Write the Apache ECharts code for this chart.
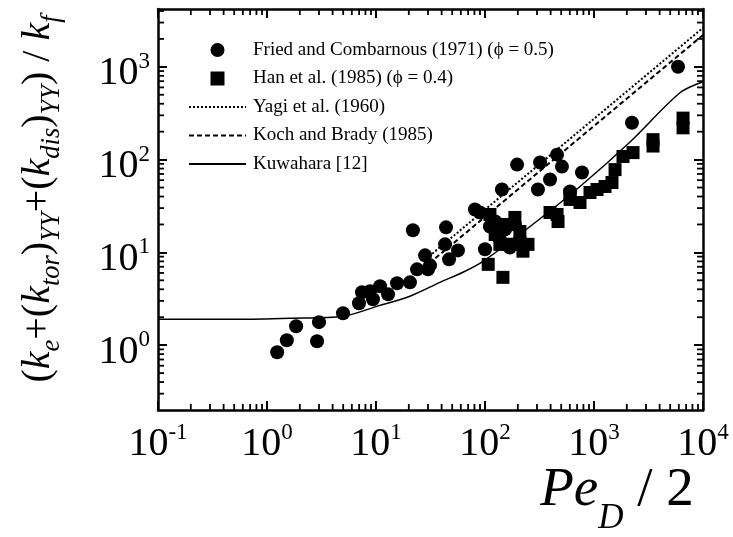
<!DOCTYPE html>
<html><head><meta charset="utf-8">
<script src="https://cdn.jsdelivr.net/npm/echarts@6/dist/echarts.min.js"></script>
<style>html,body{margin:0;padding:0;background:#fff}#c{width:733px;height:537px}</style>
</head><body><div id="c"></div>
<script>
// ---- data ----
const friedName = 'Fried and Combarnous (1971) (\u03d5 = 0.5)';
const hanName = 'Han et al. (1985) (\u03d5 = 0.4)';
const yagiName = 'Yagi et al. (1960)';
const kochName = 'Koch and Brady (1985)';
const kuwaharaName = 'Kuwahara [12]';

const friedX = [1.24,1.52,1.85,2.88,3.0,4.98,6.98,7.44,8.81,9.38,10.9,12.9,15.6,20.5,21.8,23.8,28.2,30.0,31.3,43.9,43.0,46.8,56.5,80.9,100,111,143,90,124,153,188,137,209,169,197,320,458,508,306,395,776,603,2230,5900];
const friedY = [0.84,1.13,1.60,1.10,1.77,2.21,2.83,3.72,3.81,3.13,4.31,3.53,4.64,4.75,17.3,6.56,9.29,6.56,7.25,18.6,12.2,8.41,10.5,29.0,10.8,19.0,47.6,26.9,21.5,17.7,20.0,13.8,13.8,11.3,88.3,92.9,113,84.1,47.6,61.0,72.5,45.3,250,1000];

const hanX = [107,146,124,153,177,209,248,223,137,188,163,395,468,603,744,919,1066,1262,1462,1560,1845,2280,3480,3480,6560,6560,458,603,111];
const hanY = [7.43,5.38,15.6,20.0,12.2,16.8,12.2,10.3,12.2,23.8,12.2,26.9,21.5,37.2,34.5,44.2,47.6,51.3,56.6,78.0,108,119,164,140,280,220,25.6,42.1,25.6];

const yagiX = [27, 10000];
const yagiY = [8.0, 2630];
const kochX = [27, 10000];
const kochY = [6.7, 2200];
const kuwaharaX = [0.1,0.5,1.63,4.98,10.2,20.5,38.6,62.8,95.9,259,744,2140,6150,10000];
const kuwaharaY = [1.9,1.9,1.95,2.05,2.62,3.37,4.75,6.1,8.0,19.0,51.3,155,525,690];

const xMajorTicks = [0.1,1,10,100,1000,10000];
const yMajorTicks = [1,10,100,1000];
const xMinorTicks = [0.2,0.3,0.4,0.5,0.6,0.7,0.8,0.9, 2,3,4,5,6,7,8,9, 20,30,40,50,60,70,80,90,
                     200,300,400,500,600,700,800,900, 2000,3000,4000,5000,6000,7000,8000,9000];
const yMinorTicks = [0.3,0.4,0.5,0.6,0.7,0.8,0.9, 2,3,4,5,6,7,8,9, 20,30,40,50,60,70,80,90,
                     200,300,400,500,600,700,800,900, 2000,3000,4000];
const xRange = [0.1, 10000];
const yRange = [0.2, 4200];

const zip = (a,b)=>a.map((v,i)=>[v,b[i]]);
const FONT = 'Liberation Serif';

const expRich = {
  b:{fontSize:40, fontFamily:FONT, color:'#000', lineHeight:47, verticalAlign:'middle'},
  s:{fontSize:23, fontFamily:FONT, color:'#000', lineHeight:23, verticalAlign:'top'}
};
function expFormatter(v){
  const e = Math.round(Math.log10(v));
  return '{b|10}{s|' + (e<0 ? '-'+(-e) : e) + '}';
}

function makeAxis(kind, pos, range, ticks, lbl){
  const ax = {
    type:'log', logBase:10, position:pos, min:range[0], max:range[1],
    splitLine:{show:false},
    axisLine:{show:true, onZero:false, lineStyle:{color:'#000', width:2.5}},
    axisTick:{show:true, inside:true, length:9, customValues:ticks, lineStyle:{color:'#000', width:2}},
    axisLabel:{show:false}
  };
  if(lbl){
    ax.axisLabel = {show:true, customValues:ticks, formatter:expFormatter, rich:expRich,
      margin: kind==='x'?11:8, padding: kind==='x'?0:[14,0,0,0]};
  }
  return ax;
}

function titleElements(){
  return [
    {type:'text', id:'ytitle', x:42, y:199, rotation:Math.PI/2,
     style:{
       text:'{p|(}{k|k}{sub|e}{p|+(}{k|k}{sub|tor}{p|)}{sub|YY}{p|+(}{k|k}{sub|dis}{p|)}{sub|YY}{p|) / }{k|k}{sub|f}',
       align:'center', verticalAlign:'middle',
       rich:{
         p:{fontSize:40, fontFamily:FONT, fill:'#000', lineHeight:44, verticalAlign:'top'},
         k:{fontSize:40, fontFamily:FONT, fontStyle:'italic', fill:'#000', lineHeight:44, verticalAlign:'top'},
         sub:{fontSize:26.5, fontFamily:FONT, fontStyle:'italic', fill:'#000', lineHeight:48, verticalAlign:'bottom'}
       }
     }},
    {type:'text', id:'xtitle', x:617, y:500,
     style:{
       text:'{i|Pe}{sub|D}{r| / 2}',
       align:'center', verticalAlign:'middle',
       rich:{
         i:{fontSize:55, fontFamily:FONT, fontStyle:'italic', fill:'#000', lineHeight:58, verticalAlign:'top'},
         r:{fontSize:55, fontFamily:FONT, fill:'#000', lineHeight:58, verticalAlign:'top'},
         sub:{fontSize:35, fontFamily:FONT, fontStyle:'italic', fill:'#000', lineHeight:73, verticalAlign:'bottom'}
       }
     }}
  ];
}

const chart = echarts.init(document.getElementById('c'), null, {renderer:'canvas'});
chart.setOption({
  animation:false,
  backgroundColor:'#fff',
  grid:{left:158, right:30, top:9, bottom:127, containLabel:false},
  xAxis:[
    makeAxis('x','bottom',xRange,xMajorTicks,true),
    makeAxis('x','top',xRange,xMajorTicks,false)
  ],
  yAxis:[
    makeAxis('y','left',yRange,yMajorTicks,true),
    makeAxis('y','right',yRange,yMajorTicks,false)
  ],
  legend:{
    orient:'vertical', left:183, top:35, itemWidth:57, itemHeight:14, itemGap:8.5,
    textStyle:{fontFamily:FONT, fontSize:19, color:'#000', lineHeight:20, padding:[0,0,0,2]},
    data:[
      {name:friedName, icon:'circle'},
      {name:hanName, icon:'path://M0 0H10V10H0Z'},
      {name:yagiName},
      {name:kochName},
      {name:kuwaharaName}
    ]
  },
  series:[
    {name:friedName, type:'scatter', xAxisIndex:0, yAxisIndex:0, data:zip(friedX,friedY),
     symbol:'circle', symbolSize:14, itemStyle:{color:'#000', opacity:1}},
    {name:hanName, type:'scatter', xAxisIndex:0, yAxisIndex:0, data:zip(hanX,hanY),
     symbol:'rect', symbolSize:13, itemStyle:{color:'#000', opacity:1}},
    {name:yagiName, type:'line', xAxisIndex:0, yAxisIndex:0, data:zip(yagiX,yagiY),
     symbol:'none', lineStyle:{color:'#000', width:2, type:[2,2]}, itemStyle:{color:'rgba(0,0,0,0)'}},
    {name:kochName, type:'line', xAxisIndex:0, yAxisIndex:0, data:zip(kochX,kochY),
     symbol:'none', lineStyle:{color:'#000', width:2, type:[5,3]}, itemStyle:{color:'rgba(0,0,0,0)'}},
    {name:kuwaharaName, type:'line', xAxisIndex:0, yAxisIndex:0, data:zip(kuwaharaX,kuwaharaY),
     symbol:'none', smooth:0.3, lineStyle:{color:'#000', width:1.5}, itemStyle:{color:'rgba(0,0,0,0)'}}
  ]
});

// minor ticks on all four sides, positioned through the axes' own scales
const MINOR = 6;
const g = titleElements();
const yb = chart.convertToPixel({yAxisIndex:0}, yRange[0]);
const yt = chart.convertToPixel({yAxisIndex:0}, yRange[1]);
const xl = chart.convertToPixel({xAxisIndex:0}, xRange[0]);
const xr = chart.convertToPixel({xAxisIndex:0}, xRange[1]);
xMinorTicks.forEach((v,i)=>{
  const px = chart.convertToPixel({xAxisIndex:0}, v);
  g.push({type:'line', id:'xb'+i, z:10, shape:{x1:px,y1:yb,x2:px,y2:yb-MINOR}, style:{stroke:'#000', lineWidth:1.8}});
  g.push({type:'line', id:'xt'+i, z:10, shape:{x1:px,y1:yt,x2:px,y2:yt+MINOR}, style:{stroke:'#000', lineWidth:1.8}});
});
yMinorTicks.forEach((v,i)=>{
  const py = chart.convertToPixel({yAxisIndex:0}, v);
  g.push({type:'line', id:'yl'+i, z:10, shape:{x1:xl,y1:py,x2:xl+MINOR,y2:py}, style:{stroke:'#000', lineWidth:1.8}});
  g.push({type:'line', id:'yr'+i, z:10, shape:{x1:xr,y1:py,x2:xr-MINOR,y2:py}, style:{stroke:'#000', lineWidth:1.8}});
});
chart.setOption({graphic: g});
</script></body></html>
